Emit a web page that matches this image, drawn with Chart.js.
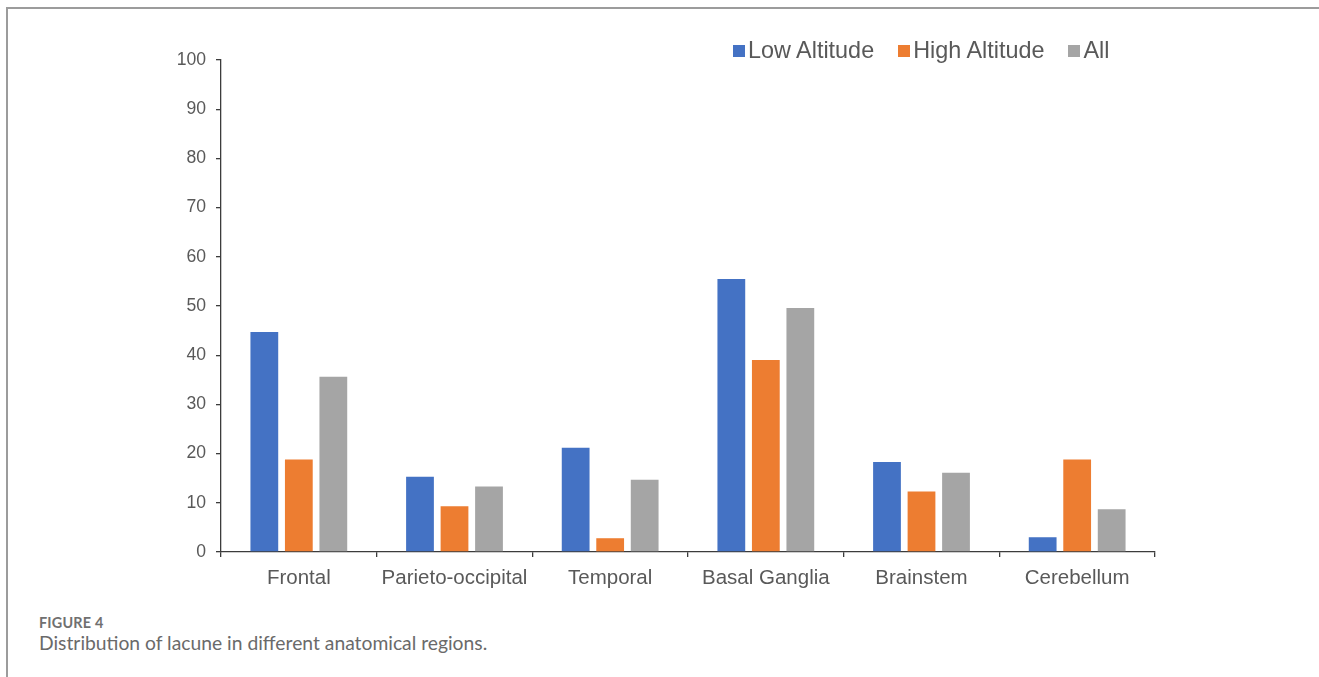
<!DOCTYPE html>
<html>
<head>
<meta charset="utf-8">
<script src="https://cdn.jsdelivr.net/npm/chart.js@4.4.0/dist/chart.umd.min.js"></script>
<style>
  html, body { margin: 0; padding: 0; background: #fff; }
  body { width: 1319px; height: 677px; position: relative; overflow: hidden; }
  .frame { position: absolute; left: 6px; top: 7px; right: -4px; bottom: -4px;
           border-top: 2px solid #9c9c9c; border-left: 2px solid #9c9c9c; }
  #wrap { position: absolute; left: 0; top: 0; width: 1319px; height: 600px; }
  #legend { position: absolute; left: 733px; top: 37px; display: flex; align-items: center;
            font-family: "Liberation Sans", Arial, sans-serif; font-size: 23.4px; color: #595959; white-space: nowrap; }
  #legend .item { display: flex; align-items: center; margin-right: 24px; }
  #legend .item:last-child { margin-right: 0; }
  #legend .sw { width: 12px; height: 12px; margin-right: 3px; }
  .cap-head { position: absolute; left: 39px; top: 614px; font-family: Lato, "Open Sans", sans-serif;
              font-weight: 700; font-size: 14.4px; color: #707070; letter-spacing: 0.2px; }
  .cap-text { position: absolute; left: 39px; top: 631px; font-family: Lato, "Open Sans", sans-serif;
              font-size: 19.3px; color: #6a6a6a; }
</style>
</head>
<body>
<div class="frame"></div>
<div id="wrap"><canvas id="c" width="1319" height="600"></canvas></div>
<div id="legend"></div>
<div class="cap-head">FIGURE 4</div>
<div class="cap-text">Distribution of lacune in different anatomical regions.</div>
<script>
// Anatomical regions and lacune percentages per group
const regions = ["Frontal", "Parieto-occipital", "Temporal", "Basal Ganglia", "Brainstem", "Cerebellum"];
const seriesNames = ["Low Altitude", "High Altitude", "All"];
const lowAltitude = [44.7, 15.3, 21.2, 55.5, 18.3, 3.0];
const highAltitude = [18.8, 9.3, 2.8, 39.0, 12.3, 18.8];
const allGroups = [35.6, 13.3, 14.7, 49.6, 16.1, 8.7];
const yTicks = [0, 10, 20, 30, 40, 50, 60, 70, 80, 90, 100];

const colors = ["#4472C4", "#ED7D31", "#A5A5A5"];
const values = [lowAltitude, highAltitude, allGroups];
const axisColor = "#3c3c3c";
const labelColor = "#595959";

const datasets = seriesNames.map((name, i) => ({
  label: name,
  data: values[i],
  backgroundColor: colors[i],
  borderWidth: 0,
  categoryPercentage: 0.665,
  barPercentage: 0.805
}));

new Chart(document.getElementById("c"), {
  type: "bar",
  data: { labels: regions, datasets },
  options: {
    responsive: false,
    animation: false,
    layout: { padding: { left: 0, right: 164, top: 60, bottom: 0 } },
    plugins: { legend: { display: false }, tooltip: { enabled: false } },
    scales: {
      x: {
        grid: { display: true, offset: true, drawOnChartArea: false, drawTicks: true,
                tickLength: 5, color: axisColor, lineWidth: 1.3 },
        border: { display: true, color: axisColor, width: 1.3 },
        ticks: { color: labelColor, padding: 9, maxRotation: 0,
                 font: { family: "'Liberation Sans', Arial, sans-serif", size: 20.5 } },
        afterFit: s => { s.height = 48; }
      },
      y: {
        min: 0, max: 100,
        afterBuildTicks: s => { s.ticks = yTicks.map(v => ({ value: v })); },
        grid: { display: true, drawOnChartArea: false, drawTicks: true,
                tickLength: 5, color: axisColor, lineWidth: 1.3 },
        border: { display: true, color: axisColor, width: 1.3 },
        ticks: { color: labelColor, padding: 10,
                 font: { family: "'Liberation Sans', Arial, sans-serif", size: 17.6 } },
        afterFit: s => { s.width = 221; }
      }
    }
  }
});

// Legend built from the series names and colours
const legend = document.getElementById("legend");
seriesNames.forEach((name, i) => {
  const item = document.createElement("div");
  item.className = "item";
  const sw = document.createElement("span");
  sw.className = "sw";
  sw.style.background = colors[i];
  const txt = document.createElement("span");
  txt.textContent = name;
  item.appendChild(sw);
  item.appendChild(txt);
  legend.appendChild(item);
});
</script>
</body>
</html>
